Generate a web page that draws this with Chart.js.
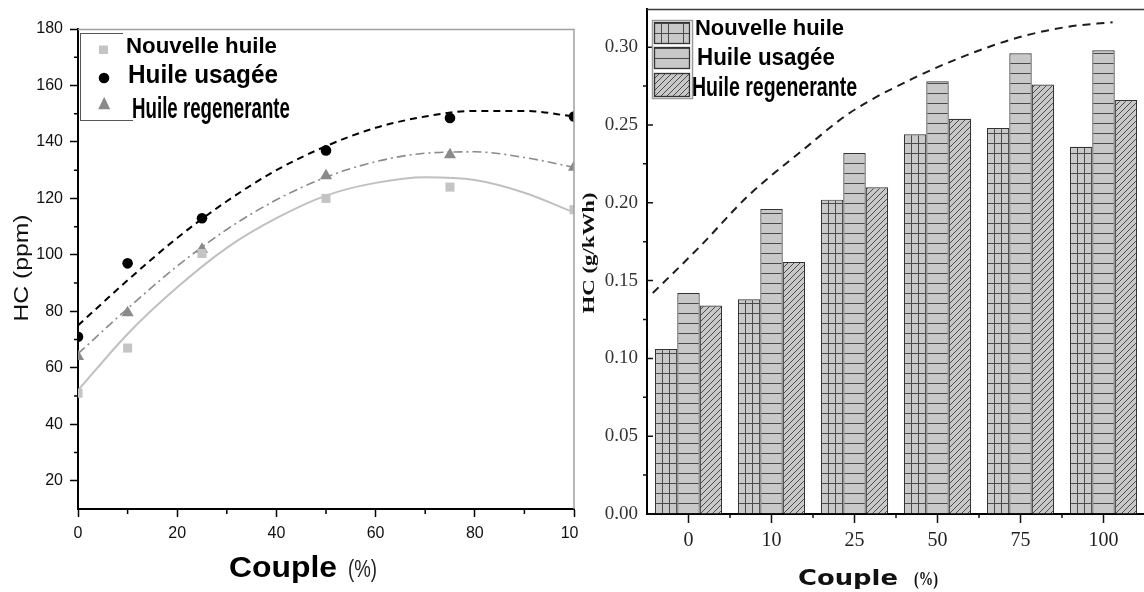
<!DOCTYPE html>
<html>
<head>
<meta charset="utf-8">
<script src="https://cdn.jsdelivr.net/npm/chart.js@4.4.1/dist/chart.umd.min.js"></script>
<style>
  html, body { margin: 0; padding: 0; background: #fff; overflow: hidden; width: 1144px; height: 592px; }
  #ppm { position: absolute; left: 0; top: 0; }
  #gkwh { position: absolute; left: 578px; top: 0; background: #fff; }
</style>
</head>
<body>
<canvas id="ppm" width="582" height="592"></canvas>
<canvas id="gkwh" width="567" height="592"></canvas>
<script>
// Couple (%) levels shared by both panels
const couplePct = [0, 10, 25, 50, 75, 100];
const coupleLabels = ['0', '10', '25', '50', '75', '100'];
const seriesNames = ['Nouvelle huile', 'Huile usagée', 'Huile regenerante'];

// HC concentration (ppm), measured points
const hcPpmNouvelle = [51, 67, 100.5, 120, 124, 116];
const hcPpmUsagee = [71, 97, 113, 137, 148.5, 149];
const hcPpmRegen = [64, 79.5, 102, 128, 135.5, 131];

// Fitted trend curves (ppm), sampled every 10 %
const fitPct = [0, 10, 20, 30, 40, 50, 60, 70, 80, 90, 100];
const fitPpmNouvelle = [52, 72, 88.5, 102.5, 113, 121, 125.5, 127.5, 126.5, 122, 115];
const fitPpmUsagee = [75, 91, 106, 119, 130, 138.5, 145, 149, 151, 151, 149];
const fitPpmRegen = [65, 81, 96, 109, 119.5, 127.5, 133, 136, 136.5, 134.5, 131];

// Axis ticks, left panel
const pctTicks = [0, 20, 40, 60, 80, 100];
const ppmTicks = [20, 40, 60, 80, 100, 120, 140, 160, 180];

// Specific HC emission (g/kWh)
const hcSpecNouvelle = [0.106, 0.138, 0.202, 0.244, 0.248, 0.236];
const hcSpecUsagee = [0.142, 0.196, 0.232, 0.278, 0.296, 0.298];
const hcSpecRegen = [0.134, 0.162, 0.210, 0.254, 0.276, 0.266];

// Trend of the specific emission, position measured in category slots
const trendPos = [-0.43, 0.14, 0.71, 1.38, 1.95, 2.75, 3.36, 3.96, 4.56, 5.11];
const trendValues = [0.142, 0.172, 0.204, 0.234, 0.258, 0.281, 0.295, 0.306, 0.313, 0.316];

// Axis ticks, right panel
const specTicks = [0, 0.05, 0.10, 0.15, 0.20, 0.25, 0.30];

const SANS = '"Liberation Sans", Arial, sans-serif';
const SERIF = '"Liberation Serif", "Times New Roman", serif';
const WIDE = '"DejaVu Sans", Verdana, sans-serif';

// Draw a string squeezed/stretched to a given width (0 = natural width)
function fitText(ctx, text, x, y, font, width, o = {}) {
  ctx.save();
  ctx.font = font;
  ctx.fillStyle = o.color || '#000';
  ctx.textBaseline = 'alphabetic';
  ctx.textAlign = 'left';
  const natural = ctx.measureText(text).width;
  const sx = width ? width / natural : 1;
  ctx.translate(x, y);
  if (o.rotate) ctx.rotate(o.rotate);
  ctx.scale(sx, 1);
  ctx.fillText(text, o.center ? -natural / 2 : 0, 0);
  ctx.restore();
}

function tick(ctx, x1, y1, x2, y2) {
  ctx.moveTo(x1, y1);
  ctx.lineTo(x2, y2);
}

/* ---------------- Left panel: HC (ppm) ---------------- */
const ptsOf = (ys) => couplePct.map((x, i) => ({ x, y: ys[i] }));
const fitOf = (ys) => fitPct.map((x, i) => ({ x, y: ys[i] }));

const ppmDecor = {
  id: 'ppmDecor',
  afterDraw(chart) {
    const { ctx, chartArea: a, scales: { x, y } } = chart;
    ctx.save();
    // grey frame on top and right
    ctx.strokeStyle = '#a0a0a0';
    ctx.lineWidth = 1.5;
    ctx.beginPath();
    ctx.moveTo(a.left, a.top + 0.5);
    ctx.lineTo(a.right, a.top + 0.5);
    ctx.lineTo(a.right, a.bottom);
    ctx.stroke();
    // minor ticks
    ctx.strokeStyle = '#000';
    ctx.lineWidth = 1.5;
    ctx.beginPath();
    for (let i = 0; i < pctTicks.length - 1; i++) {
      const px = x.getPixelForValue((pctTicks[i] + pctTicks[i + 1]) / 2);
      tick(ctx, px, a.bottom, px, a.bottom + 5);
    }
    for (let i = 0; i < ppmTicks.length - 1; i++) {
      const py = y.getPixelForValue((ppmTicks[i] + ppmTicks[i + 1]) / 2);
      tick(ctx, a.left, py, a.left - 4, py);
    }
    ctx.stroke();

    // legend
    ctx.strokeStyle = '#555';
    ctx.lineWidth = 1;
    ctx.beginPath();
    ctx.moveTo(80, 33.5); ctx.lineTo(123, 33.5);
    ctx.moveTo(80.5, 33); ctx.lineTo(80.5, 120.5);
    ctx.moveTo(80, 120.5); ctx.lineTo(133, 120.5);
    ctx.stroke();
    const ds = chart.data.datasets;
    ctx.fillStyle = ds[0].pointBackgroundColor;
    ctx.fillRect(99, 45.5, 9, 8.5);
    ctx.fillStyle = ds[1].pointBackgroundColor;
    ctx.beginPath(); ctx.arc(104, 78, 5.3, 0, Math.PI * 2); ctx.fill();
    ctx.fillStyle = ds[2].pointBackgroundColor;
    ctx.beginPath(); ctx.moveTo(104.2, 96.8); ctx.lineTo(110.2, 109.3); ctx.lineTo(98.2, 109.3); ctx.closePath(); ctx.fill();
    ctx.restore();

    fitText(ctx, ds[0].label, 126, 53, 'bold 22px ' + SANS, 151);
    fitText(ctx, ds[1].label, 128, 83, 'bold 26px ' + SANS, 150);
    fitText(ctx, ds[2].label, 132, 117.5, 'bold 30px ' + SANS, 158);

    // axis titles
    fitText(ctx, 'HC (ppm)', 27.5, 268, '20px ' + SANS, 107, { rotate: -Math.PI / 2, center: true, color: '#111' });
    fitText(ctx, 'Couple', 229, 577, 'bold 29px ' + SANS, 108);
    fitText(ctx, '(%)', 348, 577, '23px ' + SANS, 29, { color: '#222' });
  }
};

new Chart(document.getElementById('ppm'), {
  type: 'scatter',
  data: {
    datasets: [
      { label: seriesNames[0], data: ptsOf(hcPpmNouvelle), pointStyle: 'rect', pointRadius: 6.4,
        pointBackgroundColor: '#c4c4c4', pointBorderWidth: 0, clip: 0 },
      { label: seriesNames[1], data: ptsOf(hcPpmUsagee), pointStyle: 'circle', pointRadius: 5.3,
        pointBackgroundColor: '#000000', pointBorderWidth: 0, clip: 0 },
      { label: seriesNames[2], data: ptsOf(hcPpmRegen), pointStyle: 'triangle', pointRadius: 7,
        pointBackgroundColor: '#8a8a8a', pointBorderWidth: 0, clip: 0 },
      { label: 'Ajustement ' + seriesNames[0], data: fitOf(fitPpmNouvelle), showLine: true, pointRadius: 0,
        borderColor: '#c0c0c0', borderWidth: 2, cubicInterpolationMode: 'monotone' },
      { label: 'Ajustement ' + seriesNames[1], data: fitOf(fitPpmUsagee), showLine: true, pointRadius: 0,
        borderColor: '#000000', borderWidth: 2, borderDash: [7, 5], cubicInterpolationMode: 'monotone' },
      { label: 'Ajustement ' + seriesNames[2], data: fitOf(fitPpmRegen), showLine: true, pointRadius: 0,
        borderColor: '#8a8a8a', borderWidth: 1.6, borderDash: [9, 4, 2, 4], cubicInterpolationMode: 'monotone' }
    ]
  },
  options: {
    responsive: false,
    animation: false,
    devicePixelRatio: 1,
    events: [],
    layout: { padding: { top: 29, right: 8, left: 0, bottom: 0 } },
    plugins: { legend: { display: false }, tooltip: { enabled: false } },
    scales: {
      x: {
        type: 'linear', min: 0, max: 100, position: 'bottom',
        afterBuildTicks: (s) => { s.ticks = pctTicks.map((v) => ({ value: v })); },
        afterFit: (s) => { s.height = 83; s.paddingLeft = 0; s.paddingRight = 0; },
        ticks: { font: { family: SANS, size: 16 }, color: '#111', padding: 7, maxRotation: 0 },
        grid: { drawOnChartArea: false, tickLength: 8, tickWidth: 1.5, tickColor: '#000' },
        border: { color: '#000', width: 2 }
      },
      y: {
        type: 'linear', min: 10, max: 180,
        afterBuildTicks: (s) => { s.ticks = ppmTicks.map((v) => ({ value: v })); },
        afterFit: (s) => { s.width = 78; s.paddingTop = 0; s.paddingBottom = 0; },
        ticks: { font: { family: SANS, size: 16 }, color: '#111', padding: 7 },
        grid: { drawOnChartArea: false, tickLength: 8, tickWidth: 1.5, tickColor: '#000' },
        border: { color: '#000', width: 2 }
      }
    }
  },
  plugins: [ppmDecor]
});

/* ---------------- Right panel: HC (g/kWh) ---------------- */
const GROUP_FRAC = 0.81;
const barKinds = ['grid', 'rows', 'hatch'];

function barPattern(kind, dx, dy) {
  const c = document.createElement('canvas');
  const w = kind === 'grid' ? 22 : (kind === 'rows' ? 8 : 6);
  const h = kind === 'hatch' ? 6 : 10;
  c.width = w; c.height = h;
  const g = c.getContext('2d');
  g.fillStyle = '#c8c8c8';
  g.fillRect(0, 0, w, h);
  g.strokeStyle = '#4a4a4a';
  g.lineWidth = 1;
  g.beginPath();
  if (kind === 'grid') {
    g.moveTo(7.5, 0); g.lineTo(7.5, h);
    g.moveTo(14.5, 0); g.lineTo(14.5, h);
    g.moveTo(0, h - 0.5); g.lineTo(w, h - 0.5);
  } else if (kind === 'rows') {
    g.moveTo(0, h - 0.5); g.lineTo(w, h - 0.5);
  } else {
    g.moveTo(0, h); g.lineTo(w, 0);
    g.moveTo(-1, 1); g.lineTo(1, -1);
    g.moveTo(w - 1, h + 1); g.lineTo(w + 1, h - 1);
  }
  g.stroke();
  const p = g.createPattern(c, 'repeat');
  if (p.setTransform && typeof DOMMatrix !== 'undefined') {
    p.setTransform(new DOMMatrix().translate(dx, dy));
  }
  return p;
}

// Pattern anchored at the left/bottom corner of each bar
function barFill(ctx) {
  const xs = ctx.chart.scales.x;
  const ys = ctx.chart.scales.y;
  if (ctx.type !== 'data' || !xs || !xs.width) return '#c8c8c8';
  const step = xs.width / coupleLabels.length;
  const bw = step * GROUP_FRAC / 3;
  const left = xs.getPixelForValue(ctx.dataIndex) - 1.5 * bw + ctx.datasetIndex * bw;
  return barPattern(barKinds[ctx.datasetIndex], Math.round(left), Math.round(ys.getPixelForValue(0)));
}

const specDecor = {
  id: 'specDecor',
  afterDraw(chart) {
    const { ctx, chartArea: a, scales: { x, y } } = chart;
    ctx.save();
    // top frame
    ctx.strokeStyle = '#3a3a3a';
    ctx.lineWidth = 1.5;
    ctx.beginPath();
    ctx.moveTo(a.left, a.top + 0.5);
    ctx.lineTo(a.right, a.top + 0.5);
    ctx.stroke();
    // ticks
    ctx.strokeStyle = '#111';
    ctx.lineWidth = 1.5;
    ctx.beginPath();
    specTicks.forEach((v) => {
      const py = y.getPixelForValue(v);
      tick(ctx, a.left, py, a.left + 6, py);
    });
    for (let i = 0; i < specTicks.length; i++) {
      const py = y.getPixelForValue(specTicks[i] + 0.025);
      if (py > a.top) tick(ctx, a.left, py, a.left - 4, py);
    }
    coupleLabels.forEach((_, i) => {
      const px = x.getPixelForValue(i);
      const pm = x.getPixelForValue(i + 0.5);
      tick(ctx, px, a.bottom, px, a.bottom + 9);
      tick(ctx, pm, a.bottom, pm, a.bottom + 4);
    });
    ctx.stroke();

    // legend
    ctx.strokeStyle = '#9a9a9a';
    ctx.lineWidth = 1.5;
    ctx.strokeRect(74.5, 20.5, 40, 78);
    const boxes = [[76, 22, 36, 22], [76, 47, 36, 22], [76, 73, 36, 24]];
    boxes.forEach(([bx, by, bw, bh], k) => {
      ctx.fillStyle = barPattern(barKinds[k], bx, by + bh);
      ctx.fillRect(bx, by, bw, bh);
      ctx.strokeStyle = '#333';
      ctx.lineWidth = 1.3;
      ctx.strokeRect(bx + 0.5, by + 0.5, bw - 1, bh - 1);
    });
    ctx.restore();

    const ds = chart.data.datasets;
    fitText(ctx, ds[0].label, 117, 35, 'bold 22px ' + SANS, 149);
    fitText(ctx, ds[1].label, 119, 65, 'bold 24px ' + SANS, 138);
    fitText(ctx, ds[2].label, 114, 96, 'bold 27px ' + SANS, 165);

    // axis titles
    fitText(ctx, 'HC (g/kWh)', 15.5, 253, 'bold 17px ' + SERIF, 121, { rotate: -Math.PI / 2, center: true, color: '#111' });
    fitText(ctx, 'Couple', 220, 585, 'bold 21px ' + WIDE, 100, { color: '#111' });
    fitText(ctx, '(%)', 336, 585, 'bold 18px ' + SERIF, 24, { color: '#111' });
  }
};

const barSeries = [hcSpecNouvelle, hcSpecUsagee, hcSpecRegen];
const slotIndex = coupleLabels.map((_, i) => i);

new Chart(document.getElementById('gkwh'), {
  type: 'bar',
  data: {
    datasets: barSeries.map((vals, k) => ({
      label: seriesNames[k],
      data: slotIndex.map((i) => ({ x: i, y: vals[i] })),
      backgroundColor: barFill,
      borderColor: '#333333',
      borderWidth: 1.2,
      categoryPercentage: GROUP_FRAC,
      barPercentage: 1
    })).concat([{
      type: 'line',
      label: 'Tendance',
      data: trendPos.map((p, i) => ({ x: p, y: trendValues[i] })),
      borderColor: '#1c1c1c',
      borderWidth: 2,
      borderDash: [8, 6],
      pointRadius: 0,
      fill: false,
      cubicInterpolationMode: 'monotone'
    }])
  },
  options: {
    responsive: false,
    animation: false,
    devicePixelRatio: 1,
    events: [],
    layout: { padding: { top: 9, right: 0, left: 0, bottom: 0 } },
    plugins: { legend: { display: false }, tooltip: { enabled: false } },
    scales: {
      x: {
        type: 'linear', position: 'bottom', min: -0.5, max: 5.5, offset: false,
        afterBuildTicks: (s) => { s.ticks = slotIndex.map((v) => ({ value: v })); },
        afterFit: (s) => { s.height = 78; s.paddingLeft = 0; s.paddingRight = 0; },
        ticks: { font: { family: SERIF, size: 20 }, color: '#222', padding: 15, maxRotation: 0,
                 callback: (v) => coupleLabels[v] },
        grid: { drawOnChartArea: false, drawTicks: false, offset: false },
        border: { color: '#000', width: 2 }
      },
      y: {
        type: 'linear', min: 0, max: 0.3245,
        afterBuildTicks: (s) => { s.ticks = specTicks.map((v) => ({ value: v })); },
        afterFit: (s) => { s.width = 69; s.paddingTop = 0; s.paddingBottom = 0; },
        ticks: { font: { family: SERIF, size: 19 }, color: '#333', padding: 9,
                 callback: (v) => Number(v).toFixed(2) },
        grid: { drawOnChartArea: false, drawTicks: false },
        border: { color: '#000', width: 2 }
      }
    }
  },
  plugins: [specDecor]
});
</script>
</body>
</html>
